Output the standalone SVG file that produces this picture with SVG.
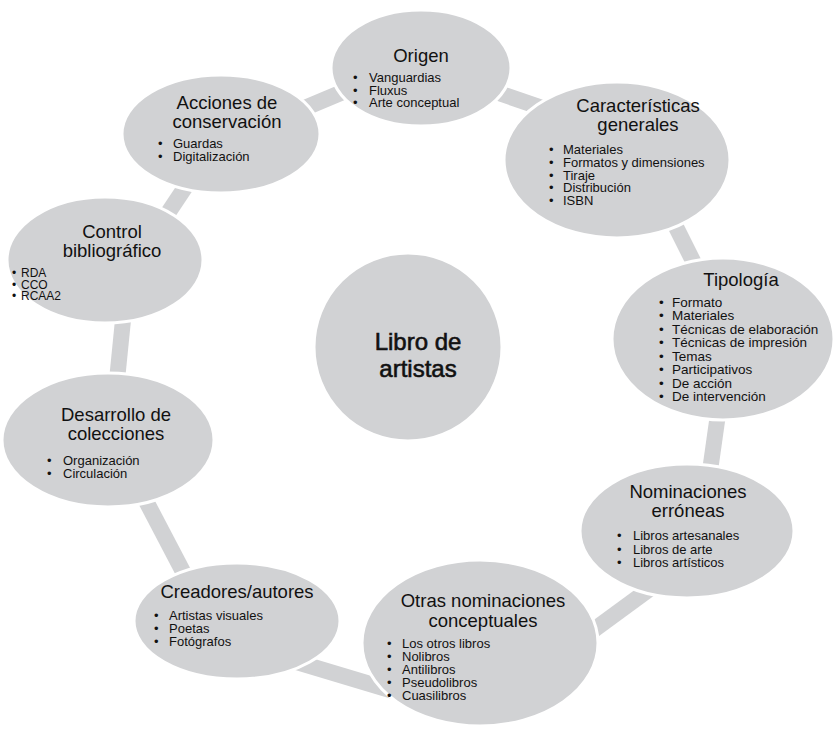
<svg xmlns="http://www.w3.org/2000/svg" width="836" height="729" viewBox="0 0 836 729">
<style>
.bg{fill:#ffffff}
.node{fill:#d1d2d4;stroke:#ffffff;stroke-width:3}
.conn{stroke:#d1d2d4;stroke-width:16;fill:none;stroke-linecap:butt}
text{font-family:"Liberation Sans",Arial,Helvetica,sans-serif;fill:#111111}
.t{font-size:18.5px;text-anchor:middle}
.i{font-size:13px}
.c{font-size:24px;text-anchor:middle;stroke:#111111;stroke-width:0.6}
</style>
<rect class="bg" x="0" y="0" width="836" height="729"/>
<g id="connectors">
<line class="conn" x1="300" y1="110" x2="350" y2="89"/>
<line class="conn" x1="490" y1="90" x2="560" y2="114"/>
<line class="conn" x1="670" y1="215" x2="700" y2="275"/>
<line class="conn" x1="720" y1="400" x2="708" y2="485"/>
<line class="conn" x1="655" y1="585" x2="580" y2="640"/>
<line class="conn" x1="290" y1="660" x2="400" y2="693"/>
<line class="conn" x1="135" y1="480" x2="190" y2="585"/>
<line class="conn" x1="125" y1="300" x2="115" y2="400"/>
<line class="conn" x1="200" y1="165" x2="160" y2="225"/>
</g>
<g id="origen">
<ellipse class="node" cx="421" cy="68" rx="90" ry="58"/>
<text class="t" x="421" y="62">Origen</text>
<text class="i" y="82"><tspan x="353">•</tspan><tspan x="369">Vanguardias</tspan></text>
<text class="i" y="94.5"><tspan x="353">•</tspan><tspan x="369">Fluxus</tspan></text>
<text class="i" y="107"><tspan x="353">•</tspan><tspan x="369">Arte conceptual</tspan></text>
</g>
<g id="caracteristicas">
<ellipse class="node" cx="617" cy="160" rx="113" ry="78"/>
<text class="t" x="638" y="112">Características</text>
<text class="t" x="638" y="131">generales</text>
<text class="i" y="154"><tspan x="549">•</tspan><tspan x="563">Materiales</tspan></text>
<text class="i" y="166.8"><tspan x="549">•</tspan><tspan x="563">Formatos y dimensiones</tspan></text>
<text class="i" y="179.6"><tspan x="549">•</tspan><tspan x="563">Tiraje</tspan></text>
<text class="i" y="192.4"><tspan x="549">•</tspan><tspan x="563">Distribución</tspan></text>
<text class="i" y="205.2"><tspan x="549">•</tspan><tspan x="563">ISBN</tspan></text>
</g>
<g id="tipologia">
<ellipse class="node" cx="723" cy="339" rx="111" ry="81"/>
<text class="t" x="741" y="286">Tipología</text>
<text class="i" y="306.5" style="font-size:13.5px"><tspan x="659">•</tspan><tspan x="672">Formato</tspan></text>
<text class="i" y="320" style="font-size:13.5px"><tspan x="659">•</tspan><tspan x="672">Materiales</tspan></text>
<text class="i" y="333.5" style="font-size:13.5px"><tspan x="659">•</tspan><tspan x="672">Técnicas de elaboración</tspan></text>
<text class="i" y="347" style="font-size:13.5px"><tspan x="659">•</tspan><tspan x="672">Técnicas de impresión</tspan></text>
<text class="i" y="360.5" style="font-size:13.5px"><tspan x="659">•</tspan><tspan x="672">Temas</tspan></text>
<text class="i" y="374" style="font-size:13.5px"><tspan x="659">•</tspan><tspan x="672">Participativos</tspan></text>
<text class="i" y="387.5" style="font-size:13.5px"><tspan x="659">•</tspan><tspan x="672">De acción</tspan></text>
<text class="i" y="401" style="font-size:13.5px"><tspan x="659">•</tspan><tspan x="672">De intervención</tspan></text>
</g>
<g id="nominaciones">
<ellipse class="node" cx="687" cy="531" rx="107" ry="67"/>
<text class="t" x="688" y="498">Nominaciones</text>
<text class="t" x="688" y="517">erróneas</text>
<text class="i" y="540"><tspan x="617">•</tspan><tspan x="633">Libros artesanales</tspan></text>
<text class="i" y="553.5"><tspan x="617">•</tspan><tspan x="633">Libros de arte</tspan></text>
<text class="i" y="567"><tspan x="617">•</tspan><tspan x="633">Libros artísticos</tspan></text>
</g>
<g id="otras">
<ellipse class="node" cx="480" cy="643" rx="118" ry="83"/>
<text class="t" x="483" y="607">Otras nominaciones</text>
<text class="t" x="483" y="627">conceptuales</text>
<text class="i" y="648"><tspan x="387">•</tspan><tspan x="402">Los otros libros</tspan></text>
<text class="i" y="661"><tspan x="387">•</tspan><tspan x="402">Nolibros</tspan></text>
<text class="i" y="674"><tspan x="387">•</tspan><tspan x="402">Antilibros</tspan></text>
<text class="i" y="687"><tspan x="387">•</tspan><tspan x="402">Pseudolibros</tspan></text>
<text class="i" y="700"><tspan x="387">•</tspan><tspan x="402">Cuasilibros</tspan></text>
</g>
<g id="creadores">
<ellipse class="node" cx="237" cy="621" rx="103" ry="58"/>
<text class="t" x="237" y="598">Creadores/autores</text>
<text class="i" y="620"><tspan x="154">•</tspan><tspan x="169">Artistas visuales</tspan></text>
<text class="i" y="633"><tspan x="154">•</tspan><tspan x="169">Poetas</tspan></text>
<text class="i" y="646"><tspan x="154">•</tspan><tspan x="169">Fotógrafos</tspan></text>
</g>
<g id="desarrollo">
<ellipse class="node" cx="108" cy="440" rx="106" ry="67"/>
<text class="t" x="116" y="421">Desarrollo de</text>
<text class="t" x="116" y="440">colecciones</text>
<text class="i" y="465"><tspan x="47">•</tspan><tspan x="63">Organización</tspan></text>
<text class="i" y="478"><tspan x="47">•</tspan><tspan x="63">Circulación</tspan></text>
</g>
<g id="control">
<ellipse class="node" cx="105" cy="260" rx="98" ry="63"/>
<text class="t" x="112" y="238">Control</text>
<text class="t" x="112" y="257">bibliográfico</text>
<text class="i" y="277" style="font-size:12px"><tspan x="12">•</tspan><tspan x="21">RDA</tspan></text>
<text class="i" y="288.5" style="font-size:12px"><tspan x="12">•</tspan><tspan x="21">CCO</tspan></text>
<text class="i" y="300" style="font-size:12px"><tspan x="12">•</tspan><tspan x="21">RCAA2</tspan></text>
</g>
<g id="acciones">
<ellipse class="node" cx="221" cy="134" rx="99" ry="59"/>
<text class="t" x="227" y="109">Acciones de</text>
<text class="t" x="227" y="128">conservación</text>
<text class="i" y="148"><tspan x="158">•</tspan><tspan x="173">Guardas</tspan></text>
<text class="i" y="161"><tspan x="158">•</tspan><tspan x="173">Digitalización</tspan></text>
</g>
<g id="libro">
<circle class="node" cx="408" cy="347" r="94"/>
<text class="c" x="418" y="350">Libro de</text>
<text class="c" x="418" y="377">artistas</text>
</g>
</svg>
